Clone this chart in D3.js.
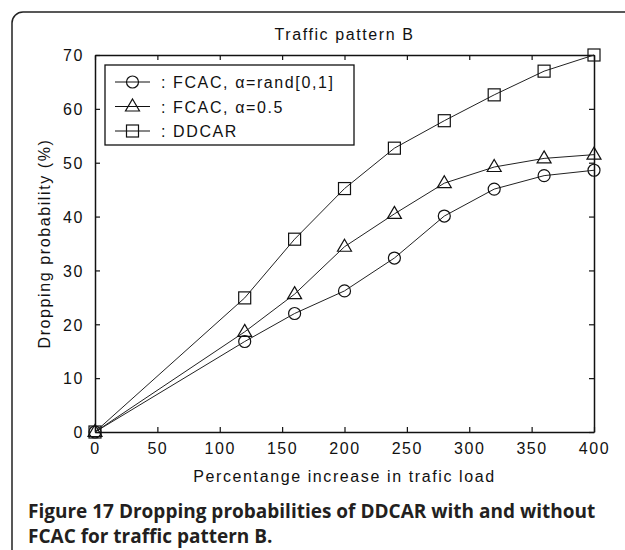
<!DOCTYPE html>
<html>
<head>
<meta charset="utf-8">
<script src="https://cdn.jsdelivr.net/npm/d3@7"></script>
<style>
  body { margin: 0; background: #fff; }
  svg text { font-family: "Liberation Sans", Arial, sans-serif; fill: #111; letter-spacing: 1.6px; }
  svg text.caption { font-family: "Open Sans", sans-serif; font-weight: 700; fill: #231f20; letter-spacing: 0; }
</style>
</head>
<body>
<div id="chart"></div>
<script>
// data
let loads = [0, 120, 160, 200, 240, 280, 320, 360, 400];
let fcacRand = [0, 16.8, 22.0, 26.2, 32.3, 40.1, 45.1, 47.6, 48.6];
let fcacHalf = [0, 18.6, 25.6, 34.4, 40.5, 46.2, 49.2, 50.8, 51.5];
let ddcar = [0, 24.9, 35.8, 45.2, 52.7, 57.8, 62.6, 67.0, 70.0];
let xTicks = [0, 50, 100, 150, 200, 250, 300, 350, 400];
let yTicks = [0, 10, 20, 30, 40, 50, 60, 70];

let series = [
    { name: ': FCAC, \u03b1=rand[0,1]', values: fcacRand, marker: 'circle' },
    { name: ': FCAC, \u03b1=0.5', values: fcacHalf, marker: 'triangle' },
    { name: ': DDCAR', values: ddcar, marker: 'square' },
];

let svgWidth = 625;
let svgHeight = 550;
let plot = { left: 95, right: 594, top: 55, bottom: 432 };

let svg = d3.select('#chart').append('svg')
    .attr('width', svgWidth)
    .attr('height', svgHeight);

// outer frame (runs off the right and bottom of the picture)
svg.append('rect')
    .attr('x', 12).attr('y', 12)
    .attr('width', 700).attr('height', 700)
    .attr('rx', 11)
    .attr('fill', 'none')
    .attr('stroke', '#222')
    .attr('stroke-width', 1.5);

let x = d3.scaleLinear().domain([0, 400]).range([plot.left, plot.right]);
let y = d3.scaleLinear().domain([0, 70]).range([plot.bottom, plot.top]);

let axisColor = '#111';

// axes with inward ticks on all four sides
let bottomAxis = svg.append('g')
    .attr('transform', `translate(0, ${plot.bottom})`)
    .call(d3.axisBottom(x).tickValues(xTicks).tickSizeInner(-5).tickSizeOuter(0).tickPadding(12));
let topAxis = svg.append('g')
    .attr('transform', `translate(0, ${plot.top})`)
    .call(d3.axisTop(x).tickValues(xTicks).tickSizeInner(-5).tickSizeOuter(0).tickFormat(''));
let leftAxis = svg.append('g')
    .attr('transform', `translate(${plot.left}, 0)`)
    .call(d3.axisLeft(y).tickValues(yTicks).tickSizeInner(-5).tickSizeOuter(0).tickPadding(11));
let rightAxis = svg.append('g')
    .attr('transform', `translate(${plot.right}, 0)`)
    .call(d3.axisRight(y).tickValues(yTicks).tickSizeInner(-5).tickSizeOuter(0).tickFormat(''));

svg.selectAll('.domain').attr('stroke', axisColor).attr('stroke-width', 1.5);
svg.selectAll('.tick line').attr('stroke', axisColor).attr('stroke-width', 1.2);
svg.selectAll('.tick text')
    .style('font-family', '"Liberation Sans", Arial, sans-serif')
    .attr('font-size', 16)
    .attr('fill', '#111');
bottomAxis.selectAll('.tick text').attr('dy', '0.6em');
leftAxis.selectAll('.tick text').attr('dy', '0.36em');

// title and axis labels
svg.append('text')
    .attr('x', (plot.left + plot.right) / 2)
    .attr('y', 40)
    .attr('text-anchor', 'middle')
    .attr('font-size', 16)
    .text('Traffic pattern B');

svg.append('text')
    .attr('x', (plot.left + plot.right) / 2)
    .attr('y', 482)
    .attr('text-anchor', 'middle')
    .attr('font-size', 16)
    .text('Percentange increase in trafic load');

svg.append('text')
    .attr('transform', `translate(50, ${(plot.top + plot.bottom) / 2}) rotate(-90)`)
    .attr('text-anchor', 'middle')
    .attr('font-size', 16)
    .text('Dropping probability (%)');

// marker drawing
function drawMarker(g, type, cx, cy) {
    if (type === 'circle') {
        g.append('circle').attr('cx', cx).attr('cy', cy).attr('r', 6);
    } else if (type === 'triangle') {
        g.append('path').attr('d', `M${cx},${cy - 7.5}L${cx + 7},${cy + 4.5}L${cx - 7},${cy + 4.5}Z`);
    } else {
        g.append('rect').attr('x', cx - 6).attr('y', cy - 6).attr('width', 12).attr('height', 12);
    }
}

let line = d3.line()
    .x((d, i) => x(loads[i]))
    .y(d => y(d));

series.forEach(function(s) {
    svg.append('path')
        .datum(s.values)
        .attr('d', line)
        .attr('fill', 'none')
        .attr('stroke', '#222')
        .attr('stroke-width', 1);

    let mg = svg.append('g')
        .attr('fill', 'none')
        .attr('stroke', '#111')
        .attr('stroke-width', 1.2);
    s.values.forEach(function(v, i) {
        drawMarker(mg, s.marker, x(loads[i]), y(v));
    });
});

// legend
let legend = svg.append('g');
legend.append('rect')
    .attr('x', 105).attr('y', 65)
    .attr('width', 249).attr('height', 80)
    .attr('fill', '#fff')
    .attr('stroke', '#111')
    .attr('stroke-width', 1.3);

series.forEach(function(s, i) {
    let ly = 82 + i * 24.5;
    legend.append('line')
        .attr('x1', 115).attr('x2', 150)
        .attr('y1', ly).attr('y2', ly)
        .attr('stroke', '#111').attr('stroke-width', 1.2);
    let mg = legend.append('g')
        .attr('fill', 'none')
        .attr('stroke', '#111')
        .attr('stroke-width', 1.2);
    drawMarker(mg, s.marker, 132.5, ly);
    legend.append('text')
        .attr('x', 161)
        .attr('y', ly + 6)
        .attr('font-size', 16)
        .text(s.name);
});

// figure caption
svg.append('text')
    .attr('class', 'caption')
    .attr('x', 28).attr('y', 518)
    .attr('font-size', 19)
    .text('Figure 17 Dropping probabilities of DDCAR with and without');
svg.append('text')
    .attr('class', 'caption')
    .attr('x', 28).attr('y', 543)
    .attr('font-size', 19)
    .text('FCAC for traffic pattern B.');
</script>
</body>
</html>
